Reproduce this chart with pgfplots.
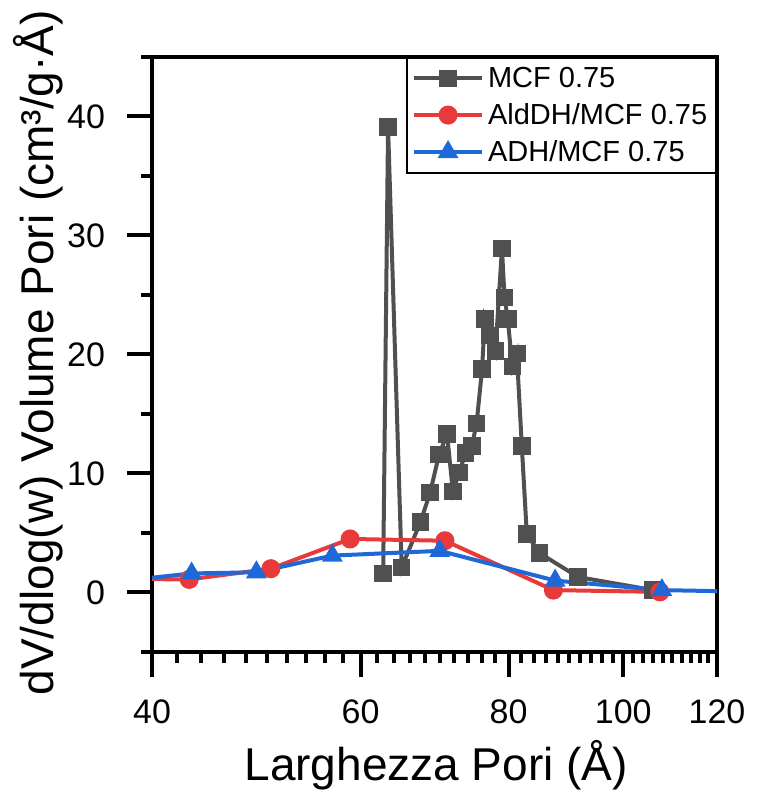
\documentclass[border=0pt]{standalone}
\usepackage{fontspec}
\setmainfont{Liberation Sans}
\usepackage{pgfplots}
\pgfplotsset{compat=1.18}
\definecolor{cgray}{RGB}{80,80,80}
\definecolor{cred}{RGB}{232,58,58}
\definecolor{cblue}{RGB}{30,105,215}
\begin{document}
\begin{tikzpicture}
\begin{axis}[
  scale only axis,
  width=282.5pt, height=297.5pt,
  xmode=log,
  xmin=40, xmax=120,
  ymin=-5, ymax=45,
  xtick={40,60,80,100,120},
  xticklabels={40,60,80,100,120},
  minor xtick={42,44,46,48,50,52,54,56,58,62,64,66,68,70,72,74,76,78,82,84,86,88,90,92,94,96,98,102,104,106,108,110,112,114,116,118},
  ytick={0,10,20,30,40},
  minor ytick={-5,5,15,25,35,45},
  xtick pos=bottom, ytick pos=left,
  tick align=outside,
  tickwidth=12.5pt,
  subtickwidth=5.5pt,
  axis line style={line width=2pt},
  tick style={line width=2pt, black},
  minor tick style={line width=2pt, black},
  /pgf/number format/assume math mode=true,
  tick label style={font=\fontsize{17}{20}\selectfont},
  xticklabel style={yshift=-8pt},
  yticklabel style={xshift=-7.5pt},
  label style={font=\fontsize{23}{28}\selectfont},
  xlabel={Larghezza Pori (Å)},
  ylabel={dV/dlog(w) Volume Pori (cm³/g·Å)},
  xlabel style={at={(rel axis cs:0.503,-0.19)}, anchor=center},
  ylabel style={at={(rel axis cs:-0.175,0.503)}, anchor=base},
  clip=true,
  legend style={at={(rel axis cs:1,1)}, anchor=north east, draw=black, line width=0.8pt,
    font=\fontsize{14.5}{17}\selectfont, cells={anchor=west}, inner sep=2.5pt,
    row sep=2.5pt},
  legend cell align=left,
  legend image code/.code={\draw[mark repeat=2,mark phase=2] plot coordinates {(0pt,0pt)(17pt,0pt)(34pt,0pt)};},
]
\addplot[color=cgray, line width=2pt, mark=square*, mark size=3.4pt, mark options={fill=cgray, draw=cgray}] coordinates {
(62.7,1.6)
(63.3,39.1)
(65.0,2.1)
(67.4,5.9)
(68.7,8.4)
(69.9,11.6)
(71.0,13.3)
(71.8,8.5)
(72.7,10.1)
(73.6,11.7)
(74.5,12.3)
(75.2,14.2)
(76.0,18.8)
(76.4,23.0)
(77.2,21.6)
(78.0,20.3)
(79.0,28.9)
(79.4,24.8)
(79.9,23.0)
(80.6,19.0)
(81.3,20.1)
(82.1,12.3)
(82.9,4.9)
(85.0,3.3)
(91.6,1.3)
(106.0,0.2)
};
\addlegendentry{MCF 0.75}
\addplot[color=cred, line width=2pt, mark=*, mark size=3.75pt, mark options={fill=cred, draw=cred}] coordinates {
(36,1.15)
(43.0,1.1)
(50.4,2.0)
(58.8,4.5)
(70.7,4.35)
(87.3,0.2)
(107.4,0.05)
};
\addlegendentry{AldDH/MCF 0.75}
\addplot[color=cblue, line width=2pt, mark=triangle*, mark size=4pt, mark options={fill=cblue, draw=cblue}] coordinates {
(36,0.75)
(43.2,1.6)
(49.0,1.7)
(56.8,3.1)
(70.0,3.5)
(87.6,1.0)
(107.8,0.2)
(130,0.05)
};
\addlegendentry{ADH/MCF 0.75}
\end{axis}
\pgfresetboundingbox
\path ([xshift=-76pt,yshift=-71pt]current axis.south west) rectangle ([xshift=19.5pt,yshift=28.5pt]current axis.north east);
\end{tikzpicture}
\end{document}
